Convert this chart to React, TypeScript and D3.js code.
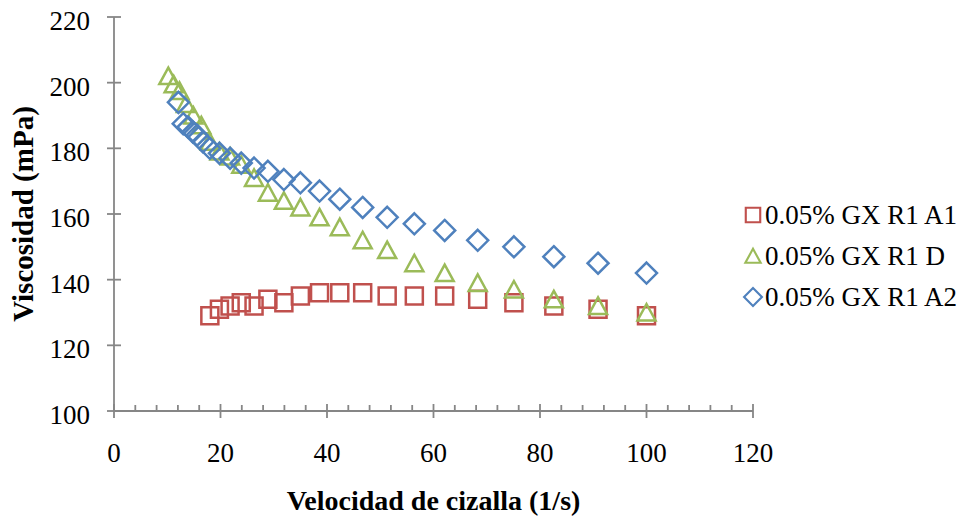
import { useEffect, useRef } from "react";
import * as d3 from "d3";

// shear rate (1/s) and viscosity (mPa) per series
const shearA1 = [18.0, 19.8, 21.8, 23.9, 26.3, 28.9, 31.9, 35.0, 38.6, 42.4, 46.7, 51.3, 56.4, 62.1, 68.3, 75.1, 82.6, 90.9, 100];
const viscA1 = [129, 131, 132, 133, 132, 134, 133, 135, 136, 136, 136, 135, 135, 135, 134, 133, 132, 131, 129];

const shearD = [10.2, 11.2, 12.3, 13.5, 14.9, 16.4, 18.0, 19.8, 21.8, 23.9, 26.3, 28.9, 31.9, 35.0, 38.6, 42.4, 46.7, 51.3, 56.4, 62.1, 68.3, 75.1, 82.6, 90.9, 100];
const viscD = [202, 199.5, 197.5, 193.5, 190, 187, 182, 179, 177.5, 175, 171, 166.5, 164, 162, 159, 156, 152, 149, 145, 142, 139, 137, 134, 132, 130];

const shearA2 = [12.1, 13.0, 13.9, 14.8, 15.6, 16.7, 18.0, 19.8, 21.8, 23.9, 26.3, 28.9, 31.9, 35.0, 38.6, 42.4, 46.7, 51.3, 56.4, 62.1, 68.3, 75.1, 82.6, 90.9, 100];
const viscA2 = [194, 187.5, 186.5, 185, 184, 182, 180, 178.5, 177, 175.5, 174, 173, 170.5, 169.5, 167, 164.5, 162, 159, 157, 155, 152, 150, 147, 145, 142];

const seriesNames = ["0.05% GX R1 A1", "0.05% GX R1 D", "0.05% GX R1 A2"];
const xTicks = [0, 20, 40, 60, 80, 100, 120];
const yTicks = [100, 120, 140, 160, 180, 200, 220];

const FONT = "'Liberation Serif', 'DejaVu Serif', serif";
const AXIS = "#868686";

const App = () => {
  const svgRef = useRef<SVGSVGElement | null>(null);
  const width = 971;
  const height = 520;

  useEffect(() => {
    const svg = d3.select(svgRef.current);
    svg.selectAll("*").remove();

    const x = d3.scaleLinear().domain([0, 120]).range([114, 753]);
    const y = d3.scaleLinear().domain([100, 220]).range([411, 17]);

    const series = [
      { name: seriesNames[0], xs: shearA1, ys: viscA1, color: "#C0504D", shape: "square" },
      { name: seriesNames[1], xs: shearD, ys: viscD, color: "#9BBB59", shape: "triangle" },
      { name: seriesNames[2], xs: shearA2, ys: viscA2, color: "#4F81BD", shape: "diamond" },
    ];

    const markerPath = (shape: string) => {
      if (shape === "square") return "M-8.5,-8.5H8.5V8.5H-8.5Z";
      if (shape === "triangle") return "M0,-8.5L9,8L-9,8Z";
      return "M0,-10.5L10.5,0L0,10.5L-10.5,0Z";
    };

    // axes
    const axes = svg.append("g").attr("stroke", AXIS).attr("stroke-width", 1.8);
    axes.append("line").attr("x1", x(0)).attr("x2", x(0)).attr("y1", y(220)).attr("y2", y(100));
    axes.append("line").attr("x1", x(0)).attr("x2", x(120)).attr("y1", y(100)).attr("y2", y(100));

    axes.selectAll(".ytick")
      .data(yTicks)
      .enter()
      .append("line")
      .attr("x1", x(0) - 7)
      .attr("x2", x(0) + 7)
      .attr("y1", (d) => y(d))
      .attr("y2", (d) => y(d));

    axes.selectAll(".xtick")
      .data(xTicks)
      .enter()
      .append("line")
      .attr("x1", (d) => x(d))
      .attr("x2", (d) => x(d))
      .attr("y1", y(100) - 7)
      .attr("y2", y(100) + 7);

    const minor = d3.range(4, 120, 4).filter((d) => d % 20 !== 0);
    axes.selectAll(".xminor")
      .data(minor)
      .enter()
      .append("line")
      .attr("x1", (d) => x(d))
      .attr("x2", (d) => x(d))
      .attr("y1", y(100) - 6)
      .attr("y2", y(100));

    // tick labels
    svg.selectAll(".ylab")
      .data(yTicks)
      .enter()
      .append("text")
      .attr("x", 90)
      .attr("y", (d) => y(d) + 13)
      .attr("text-anchor", "end")
      .style("font-family", FONT)
      .style("font-size", "27px")
      .text((d) => d);

    svg.selectAll(".xlab")
      .data(xTicks)
      .enter()
      .append("text")
      .attr("x", (d) => x(d))
      .attr("y", 462)
      .attr("text-anchor", "middle")
      .style("font-family", FONT)
      .style("font-size", "27px")
      .text((d) => d);

    // axis titles
    svg.append("text")
      .attr("x", (x(0) + x(120)) / 2)
      .attr("y", 510)
      .attr("text-anchor", "middle")
      .style("font-family", FONT)
      .style("font-weight", "bold")
      .style("font-size", "28px")
      .text("Velocidad de cizalla (1/s)");

    svg.append("text")
      .attr("transform", `translate(33, ${(y(100) + y(220)) / 2}) rotate(-90)`)
      .attr("text-anchor", "middle")
      .style("font-family", FONT)
      .style("font-weight", "bold")
      .style("font-size", "29px")
      .text("Viscosidad (mPa)");

    // markers
    series.forEach((s) => {
      svg.append("g")
        .selectAll("path")
        .data(s.xs.map((v, i) => [v, s.ys[i]]))
        .enter()
        .append("path")
        .attr("d", markerPath(s.shape))
        .attr("transform", (d) => `translate(${x(d[0])},${y(d[1])})`)
        .attr("fill", "none")
        .attr("stroke", s.color)
        .attr("stroke-width", 2.5);
    });

    // legend
    const legend = svg.append("g");
    series.forEach((s, i) => {
      const ly = 215 + i * 41;
      legend.append("path")
        .attr("d", markerPath(s.shape))
        .attr("transform", `translate(753,${ly}) scale(0.85)`)
        .attr("fill", "none")
        .attr("stroke", s.color)
        .attr("stroke-width", 2.5);
      legend.append("text")
        .attr("x", 765)
        .attr("y", ly + 9)
        .style("font-family", FONT)
        .style("font-size", "27px")
        .text(s.name);
    });
  }, []);

  return (
    <div style={{ position: "absolute", left: 0, top: 0 }}>
      <svg ref={svgRef} width={width} height={height} style={{ display: "block", background: "#fff" }} />
    </div>
  );
};

export default App;
